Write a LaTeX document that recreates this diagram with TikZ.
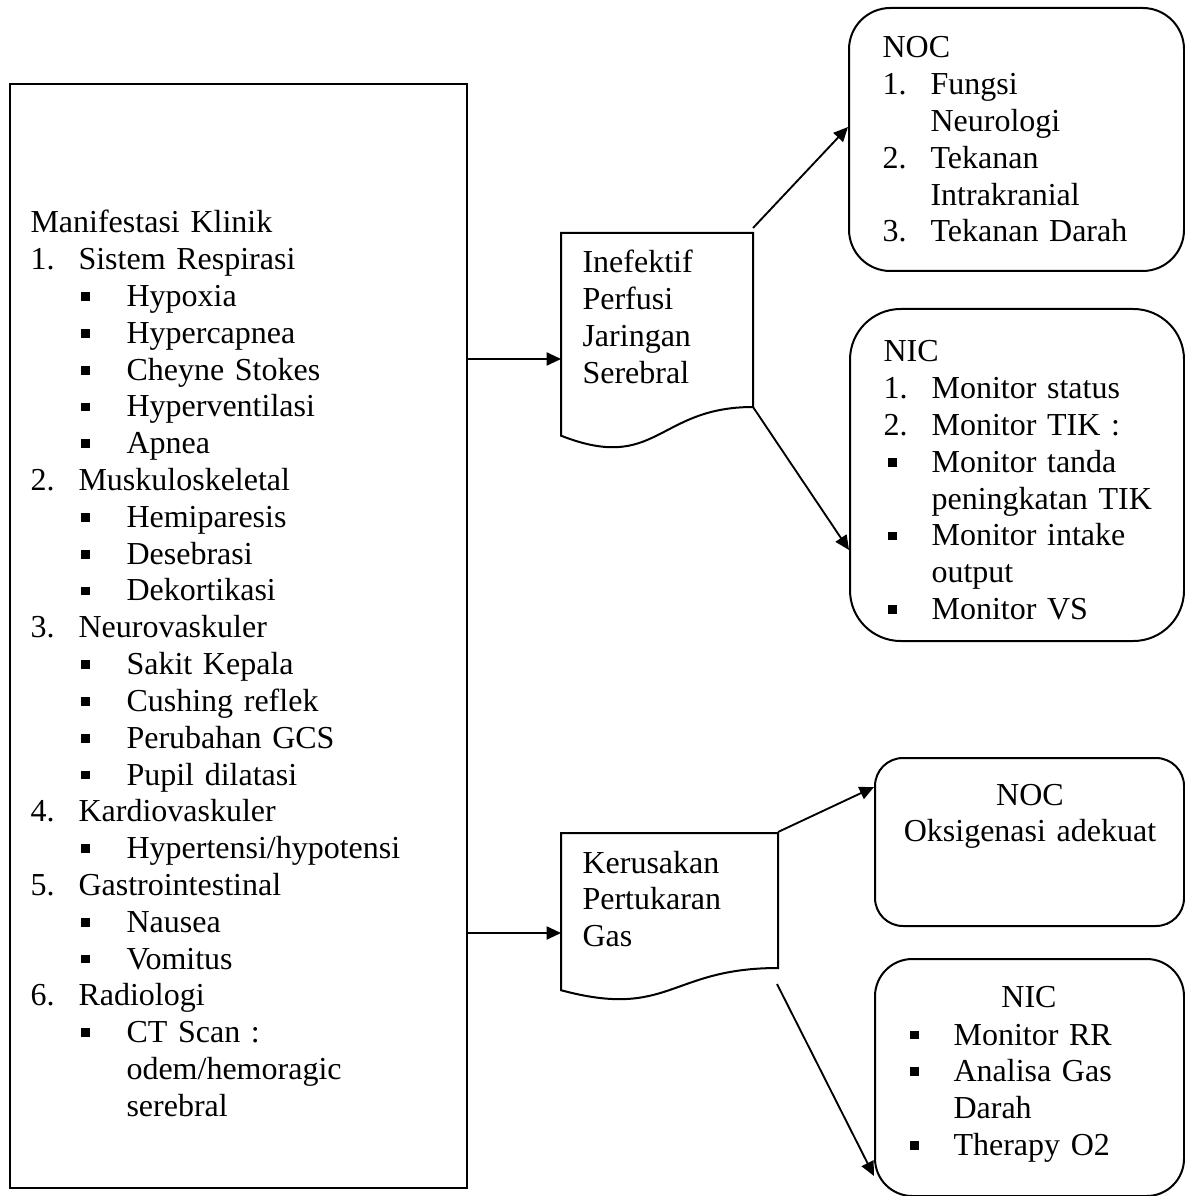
\documentclass[tikz,border=0pt]{standalone}
\usepackage{fontspec}
\setmainfont{Liberation Serif}
\usetikzlibrary{arrows.meta}

% list helpers: numbered label, square bullets (outer list and box lists)
\newcommand{\numi}[1]{\makebox[18pt][l]{#1}}
\newcommand{\sqbul}{\rule[2.1pt]{3.3pt}{3.3pt}}
\newcommand{\bulL}{\makebox[36pt][l]{\hspace*{19pt}\sqbul}}
\newcommand{\bulR}{\makebox[18pt][l]{\hspace*{1.7pt}\sqbul}}

\begin{document}
\begin{tikzpicture}[x=0.375pt,y=-0.375pt,
  box/.style={draw, line width=0.75pt, inner sep=0pt, anchor=north west},
  txt/.style={inner sep=0pt, anchor=base west, align=left, text width=200pt,
    font=\fontsize{12pt}{13.8pt}\selectfont},
  ctxt/.style={inner sep=0pt, anchor=base, align=center, text width=120pt,
    font=\fontsize{12pt}{13.8pt}\selectfont},
  doc/.style={draw, line width=0.75pt, line join=miter},
  arr/.style={-{Triangle[length=5.4pt,width=4.9pt]}, line width=0.7pt}]

\useasboundingbox (0,0) rectangle (1184,1196);

% ---- boxes ----
\node[box, minimum width=171.375pt, minimum height=414pt] (mk) at (9,83) {};
\node[box, rounded corners=15.5pt, minimum width=125.625pt, minimum height=98.625pt] (noc1) at (848,7) {};
\node[box, rounded corners=19pt, minimum width=125.25pt, minimum height=124.5pt] (nic1) at (849,308) {};
\node[box, rounded corners=10.5pt, minimum width=115.875pt, minimum height=63pt] (noc2) at (874,757) {};
\node[box, rounded corners=14pt, minimum width=115.875pt, minimum height=88.875pt] (nic2) at (874,958) {};

% ---- document shapes (wavy bottom) ----
\draw[doc] (561,233) -- (753,233) -- (753,407)
  .. controls (657,407) and (657,473.3) .. (561,435.7) -- cycle;
\draw[doc] (561,833) -- (778,833) -- (778,968)
  .. controls (669.5,968) and (669.5,1019.4) .. (561,990.2) -- cycle;

% ---- texts ----
\node[txt] (mkt) at (30,233) {Manifestasi Klinik\\
\numi{1.}Sistem Respirasi\\
\bulL Hypoxia\\
\bulL Hypercapnea\\
\bulL Cheyne Stokes\\
\bulL Hyperventilasi\\
\bulL Apnea\\
\numi{2.}Muskuloskeletal\\
\bulL Hemiparesis\\
\bulL Desebrasi\\
\bulL Dekortikasi\\
\numi{3.}Neurovaskuler\\
\bulL Sakit Kepala\\
\bulL Cushing reflek\\
\bulL Perubahan GCS\\
\bulL Pupil dilatasi\\
\numi{4.}Kardiovaskuler\\
\bulL Hypertensi/hypotensi\\
\numi{5.}Gastrointestinal\\
\bulL Nausea\\
\bulL Vomitus\\
\numi{6.}Radiologi\\
\bulL CT Scan :\\
\hspace*{36pt}odem/hemoragic\\
\hspace*{36pt}serebral};

\node[txt] (d1t) at (582,273) {Inefektif\\Perfusi\\Jaringan\\Serebral};
\node[txt] (d2t) at (582,873) {Kerusakan\\Pertukaran\\Gas};

\node[txt] (noc1t) at (882,58) {NOC\\
\numi{1.}Fungsi\\
\hspace*{18pt}Neurologi\\
\numi{2.}Tekanan\\
\hspace*{18pt}Intrakranial\\
\numi{3.}Tekanan Darah};

\node[txt] (nic1t) at (883,362) {NIC\\
\numi{1.}Monitor status\\
\numi{2.}Monitor TIK :\\
\bulR Monitor tanda\\
\hspace*{18pt}peningkatan TIK\\
\bulR Monitor intake\\
\hspace*{18pt}output\\
\bulR Monitor VS};

\node[ctxt] (noc2t) at (1030,805) {NOC\\Oksigenasi adekuat};
\node[ctxt] (nic2t) at (1029,1007) {NIC};
\node[txt] (nic2l) at (905,1045) {\bulR Monitor RR\\
\bulR Analisa Gas\\
\hspace*{18pt}Darah\\
\bulR Therapy O2};

% ---- connector end points ----
\coordinate (d1in) at (561,359);
\coordinate (d2in) at (561,933);
\coordinate (d1a) at (753,228);
\coordinate (d1b) at (753,407);
\coordinate (d2a) at (778,832);
\coordinate (d2b) at (777,984);

% ---- connectors ----
\draw[arr] (mk.east |- d1in) -- (d1in);
\draw[arr] (mk.east |- d2in) -- (d2in);
\draw[arr] (d1a) -- (noc1.west |- 0,127);
\draw[arr] (d1b) -- (nic1.west |- 0,550);
\draw[arr] (d2a) -- (noc2.west |- 0,787);
\draw[arr] (d2b) -- (nic2.west |- 0,1176);
\end{tikzpicture}
\end{document}
